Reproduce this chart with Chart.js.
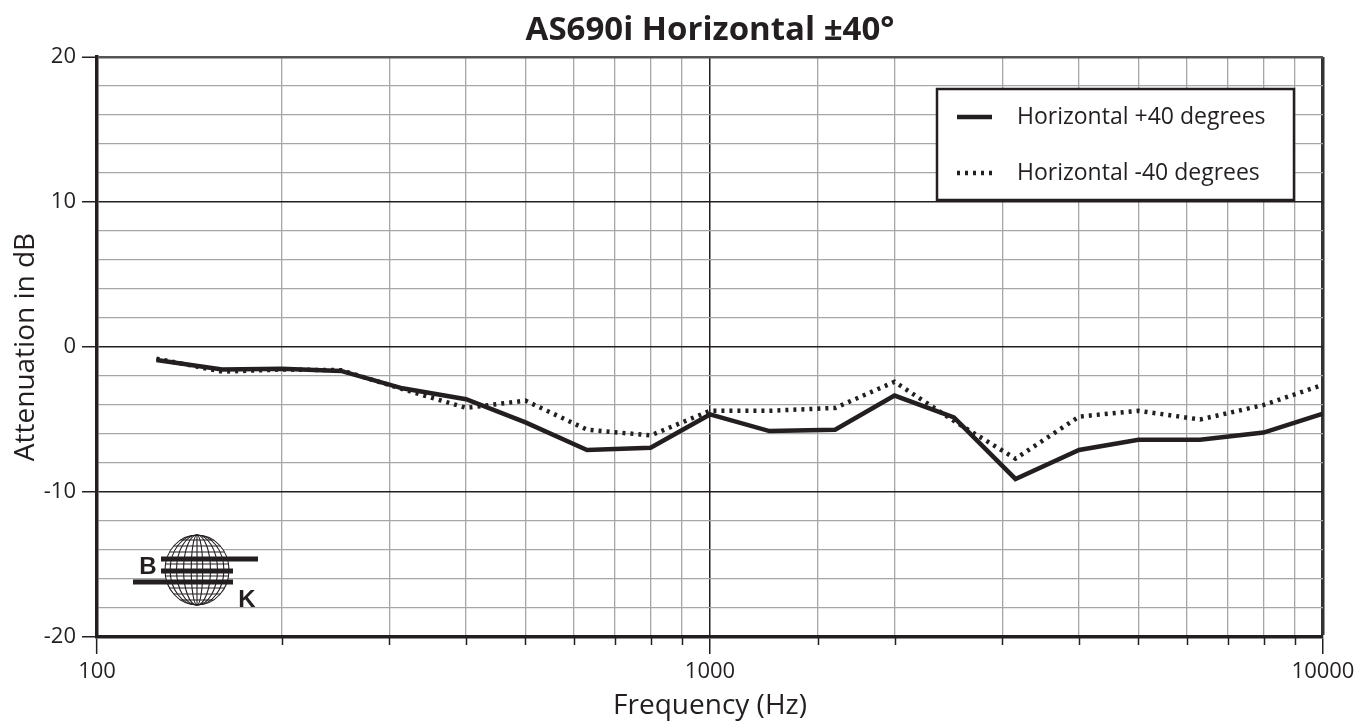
<!DOCTYPE html>
<html>
<head>
<meta charset="utf-8">
<script src="https://cdn.jsdelivr.net/npm/chart.js@4/dist/chart.umd.min.js"></script>
<style>
html,body{margin:0;padding:0;background:#fff;}
#wrap{width:1371px;height:725px;position:relative;}
</style>
</head>
<body>
<div id="wrap"><canvas id="c" width="1371" height="725"></canvas></div>
<script>
// ---- data ----
const chartTitle = 'AS690i Horizontal \u00B140\u00B0';
const frequencies = [125,160,200,250,315,400,500,630,800,1000,1250,1600,2000,2500,3150,4000,5000,6300,8000,10000];
const horizontalPlus40 = [-0.9,-1.55,-1.5,-1.65,-2.85,-3.6,-5.2,-7.1,-6.95,-4.65,-5.8,-5.7,-3.35,-4.85,-9.1,-7.1,-6.4,-6.4,-5.9,-4.6];
const horizontalMinus40 = [-0.8,-1.7,-1.55,-1.6,-2.9,-4.2,-3.7,-5.7,-6.1,-4.4,-4.4,-4.2,-2.4,-5.1,-7.7,-4.8,-4.4,-5.0,-4.0,-2.6];
const seriesLabels = ['Horizontal +40 degrees','Horizontal -40 degrees'];
const xTickLabels = [100,1000,10000];
const yTickLabels = [-20,-10,0,10,20];

const INK = '#231f20';
const FONT = "'Open Sans', 'Noto Sans', 'DejaVu Sans', sans-serif";

const toPoints = (vals) => frequencies.map((f,i)=>({x:f,y:vals[i]}));

const titlePlugin = {
  id:'centerTitle',
  afterDraw(chart){
    const {ctx, chartArea} = chart;
    ctx.save();
    ctx.fillStyle = INK;
    ctx.font = "bold 33px " + FONT;
    ctx.textAlign='center';
    ctx.textBaseline='middle';
    ctx.fillText(chartTitle,(chartArea.left+chartArea.right)/2,31);
    ctx.restore();
  }
};

const minorTickPlugin = {
  id:'minorTicks',
  afterDraw(chart){
    const {ctx} = chart;
    const xs = chart.scales.x;
    ctx.save();
    ctx.strokeStyle = INK;
    ctx.lineWidth = 1.5;
    xs.ticks.forEach(t=>{
      if (xTickLabels.includes(t.value)) return;
      const px = Math.round(xs.getPixelForValue(t.value))+0.5;
      ctx.beginPath();
      ctx.moveTo(px, xs.top);
      ctx.lineTo(px, xs.top+8);
      ctx.stroke();
    });
    ctx.restore();
  }
};

const legendPlugin = {
  id:'boxLegend',
  afterDraw(chart){
    const {ctx} = chart;
    const x0=937,y0=89,x1=1294,y1=200;
    ctx.save();
    ctx.fillStyle='#fff';
    ctx.fillRect(x0,y0,x1-x0,y1-y0);
    ctx.strokeStyle=INK;
    ctx.lineWidth=2.5;
    ctx.strokeRect(x0,y0,x1-x0,y1-y0);
    const rows=[117,173];
    chart.data.datasets.forEach((ds,i)=>{
      const y=rows[i];
      ctx.beginPath();
      ctx.strokeStyle=ds.borderColor;
      ctx.lineWidth=ds.borderWidth;
      ctx.setLineDash(ds.borderDash||[]);
      ctx.moveTo(957,y);ctx.lineTo(992,y);
      ctx.stroke();
      ctx.setLineDash([]);
      ctx.fillStyle=INK;
      ctx.font="23px "+FONT;
      ctx.textAlign='left';
      ctx.textBaseline='middle';
      ctx.fillText(ds.label,1017,y);
    });
    ctx.restore();
  }
};

const logoPlugin = {
  id:'bkLogo',
  afterDraw(chart){
    const {ctx} = chart;
    const cx=197, cy=570, rx=32, ry=35;
    ctx.save();
    ctx.fillStyle='#fff';
    ctx.beginPath();ctx.ellipse(cx,cy,rx,ry,0,0,Math.PI*2);ctx.fill();
    ctx.strokeStyle=INK;ctx.lineWidth=1.1;
    ctx.beginPath();ctx.ellipse(cx,cy,rx,ry,0,0,Math.PI*2);ctx.stroke();
    [0.18,0.42,0.64,0.84].forEach(k=>{
      ctx.beginPath();ctx.ellipse(cx,cy,rx*k,ry,0,0,Math.PI*2);ctx.stroke();
    });
    ctx.beginPath();ctx.moveTo(cx,cy-ry);ctx.lineTo(cx,cy+ry);ctx.stroke();
    for(let j=-5;j<=5;j++){
      const yy=cy+j*6;
      const dx=rx*Math.sqrt(Math.max(0,1-Math.pow((yy-cy)/ry,2)));
      ctx.beginPath();ctx.moveTo(cx-dx,yy);ctx.lineTo(cx+dx,yy);ctx.stroke();
    }
    ctx.fillStyle=INK;
    ctx.fillRect(161,556.5,97,5);
    ctx.fillRect(161,568.5,72,5);
    ctx.fillRect(133,579.5,100,5);
    ctx.font="bold 24px 'Liberation Sans', Arial, sans-serif";
    ctx.textAlign='center';ctx.textBaseline='middle';
    ctx.fillText('B',148,567);
    ctx.fillText('K',247,600);
    ctx.restore();
  }
};

new Chart(document.getElementById('c'),{
  type:'line',
  data:{
    datasets:[
      {label:seriesLabels[0],data:toPoints(horizontalPlus40),borderColor:INK,borderWidth:4.5,pointRadius:0,tension:0,fill:false},
      {label:seriesLabels[1],data:toPoints(horizontalMinus40),borderColor:INK,borderWidth:4.5,borderDash:[3,5],pointRadius:0,tension:0,fill:false}
    ]
  },
  options:{
    responsive:false,
    animation:false,
    layout:{padding:{top:57,right:48,bottom:0,left:0}},
    plugins:{legend:{display:false},title:{display:false},tooltip:{enabled:false}},
    scales:{
      x:{
        type:'logarithmic',
        min:100,max:10000,
        afterFit(s){s.height=88;},
        border:{display:true,color:INK,width:3.5},
        grid:{
          color:(c)=> c.tick && c.tick.value===1000 ? INK : (c.tick && c.tick.value===10000 ? '#333' : '#a6a6a6'),
          lineWidth:(c)=> c.tick && c.tick.value===10000 ? 3.5 : (c.tick && c.tick.value===1000 ? 1.5 : 1.3),
          tickLength:17,
          tickColor:(c)=> c.tick && xTickLabels.includes(c.tick.value) ? INK : 'rgba(0,0,0,0)',
          tickWidth:1.5
        },
        ticks:{
          autoSkip:false,maxRotation:0,padding:5,color:INK,
          font:{family:FONT,size:22},
          callback:(v)=> xTickLabels.includes(v) ? String(v) : ''
        },
        title:{display:true,text:'Frequency (Hz)',color:INK,font:{family:FONT,size:28},padding:{top:0,bottom:2}}
      },
      y:{
        min:-20,max:20,
        afterFit(s){s.width=97;},
        border:{display:true,color:INK,width:3.5},
        grid:{
          color:(c)=> !c.tick ? '#a6a6a6' : (c.tick.value===20 ? '#555' : (c.tick.value%10===0 ? INK : '#a6a6a6')),
          lineWidth:(c)=> !c.tick ? 1.3 : (c.tick.value===20 ? 2.5 : (c.tick.value%10===0 ? 1.5 : 1.3)),
          tickLength:15,
          tickColor:(c)=> c.tick && yTickLabels.includes(c.tick.value) ? INK : 'rgba(0,0,0,0)',
          tickWidth:1.5
        },
        ticks:{
          stepSize:2,padding:6,color:INK,autoSkip:false,
          font:{family:FONT,size:22},
          callback:(v)=> yTickLabels.includes(v) ? String(v) : ''
        },
        title:{display:true,text:'Attenuation in dB',color:INK,font:{family:FONT,size:28},padding:{top:9,bottom:0}}
      }
    }
  },
  plugins:[titlePlugin,minorTickPlugin,legendPlugin,logoPlugin]
});
</script>
</body>
</html>
